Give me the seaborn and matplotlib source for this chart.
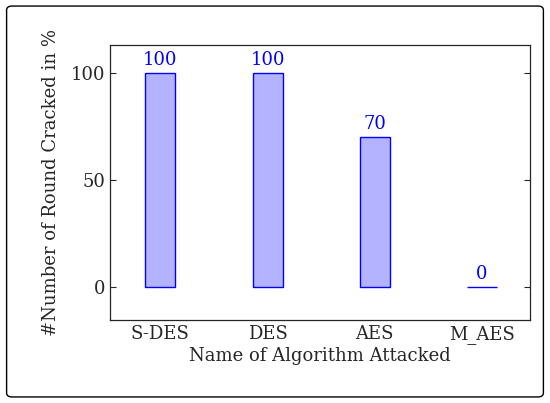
import matplotlib
matplotlib.use("Agg")
import matplotlib.pyplot as plt
import seaborn as sns
import pandas as pd
from matplotlib.patches import FancyBboxPatch

algorithms = ["S-DES", "DES", "AES", "M_AES"]
cracked = [100, 100, 70, 0]

sns.set_style("ticks")
plt.rcParams['font.family'] = ['DejaVu Serif']

df = pd.DataFrame({"alg": algorithms, "pct": cracked})

fig = plt.figure(figsize=(5.5, 4.03), dpi=100)
ax = fig.add_axes([0.2, 0.206, 0.764, 0.682])

sns.barplot(data=df, x="alg", y="pct", ax=ax, width=0.28,
            color="#b3b3ff", edgecolor="#0000ff", linewidth=1.0, saturation=1)

for i, v in enumerate(cracked):
    ax.text(i, v + 2, str(v), ha="center", va="bottom", color="#0000ff", fontsize=13)

ax.set_xlim(-0.47, 3.45)
ax.set_ylim(-15.4, 113)
ax.set_yticks([0, 50, 100])
ax.tick_params(axis="both", direction="in", labelsize=13, length=4)
ax.tick_params(axis="y", right=True)
ax.tick_params(axis="x", length=0)
for s in ax.spines.values():
    s.set_visible(True)
    s.set_linewidth(0.9)
ax.set_xlabel("Name of Algorithm Attacked", fontsize=13, labelpad=2)
ax.set_ylabel("#Number of Round Cracked in %", fontsize=13, labelpad=8)

border = FancyBboxPatch((0.012, 0.015), 0.976, 0.97, boxstyle="round,pad=0,rounding_size=0.01",
                        transform=fig.transFigure, fill=False, edgecolor="black", linewidth=1.0)
fig.patches.append(border)

fig.savefig("out.png", dpi=100)
